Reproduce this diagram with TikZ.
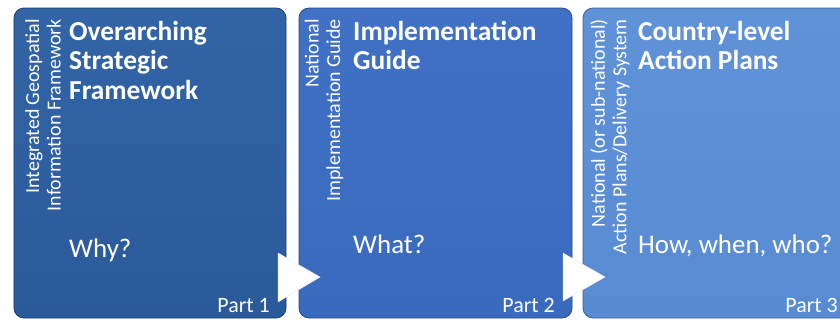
\documentclass[tikz,border=0pt]{standalone}
\usepackage{fontspec}
\setmainfont{Carlito}
\usetikzlibrary{shadows}
\definecolor{boxA}{HTML}{2B5A9A}
\definecolor{boxAtop}{HTML}{3264A6}
\definecolor{boxB}{HTML}{3A6ABD}
\definecolor{boxBtop}{HTML}{4171C5}
\definecolor{boxC}{HTML}{588BD2}
\definecolor{boxCtop}{HTML}{6092D8}
\tikzset{
  panel/.style={rectangle, rounded corners=10bp, minimum height=310bp, inner sep=0pt, draw=#1!70!black, line width=0.8bp},
  sidetext/.style={rotate=90, anchor=east, align=right, text=white, inner sep=0pt, font=\fontsize{20}{21.5}\selectfont},
  titletext/.style={anchor=north west, align=left, text=white, inner sep=0pt, font=\bfseries\fontsize{27.5}{29.5}\selectfont},
  asktext/.style={anchor=base west, text=white, inner sep=0pt, font=\fontsize{27}{30}\selectfont},
  parttext/.style={anchor=base east, text=white, inner sep=0pt, font=\fontsize{22}{24}\selectfont},
  flowtri/.style={fill=white, draw=white!85!gray, line width=0.5bp}
}
\begin{document}
\begin{tikzpicture}[x=1bp,y=-1bp]
\useasboundingbox (0,0) rectangle (840,322);
% panels
\node[panel=boxA, minimum width=272bp, top color=boxAtop, bottom color=boxA] (p1) at (150,163) {};
\node[panel=boxB, minimum width=273bp, top color=boxBtop, bottom color=boxB] (p2) at (435.5,163) {};
\node[panel=boxC, minimum width=270bp, top color=boxCtop, bottom color=boxC] (p3) at (718,163) {};
% side texts
\node[sidetext] (s1) at (43,19) {Integrated Geospatial\\Information Framework};
\node[sidetext] (s2) at (324,19) {National\\Implementation Guide};
\node[sidetext] (s3) at (610,19) {National (or sub-national)\\Action Plans/Delivery System};
% titles
\node[titletext] (t1) at (69,21) {Overarching\\Strategic\\Framework};
\node[titletext] (t2) at (353,21) {Implementation\\Guide};
\node[titletext] (t3) at (638,21) {Country-level\\Action Plans};
% questions
\node[asktext] (q1) at (69,257) {Why?};
\node[asktext] (q2) at (353,253) {What?};
\node[asktext] (q3) at (638,253) {How, when, who?};
% parts
\node[parttext] (r1) at (270,312) {Part 1};
\node[parttext] (r2) at (555,312) {Part 2};
\node[parttext] (r3) at (838,312) {Part 3};
% arrows
\coordinate (a1) at (278,253);
\coordinate (a1b) at (278,302);
\coordinate (a1t) at (320,277);
\fill[flowtri] (a1) -- (a1t) -- (a1b) -- cycle;
\coordinate (a2) at (563,253);
\coordinate (a2b) at (563,301);
\coordinate (a2t) at (605,277);
\fill[flowtri] (a2) -- (a2t) -- (a2b) -- cycle;
\end{tikzpicture}
\end{document}
